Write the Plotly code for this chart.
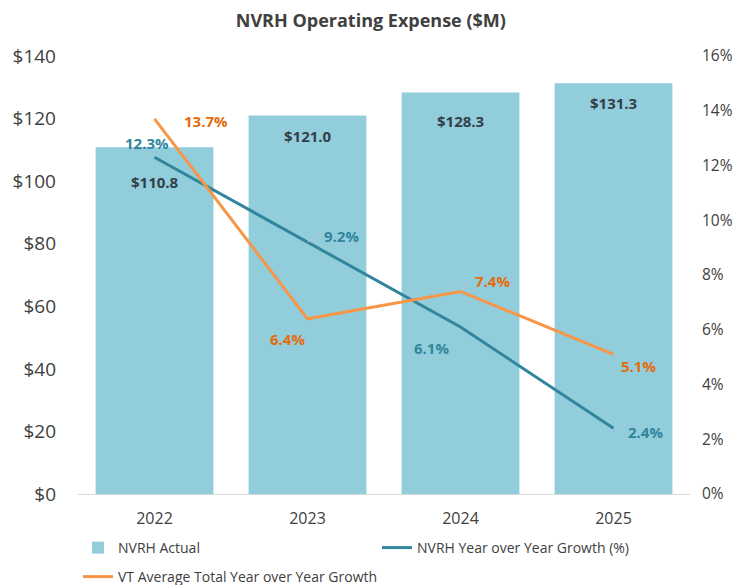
import plotly.graph_objects as go

years = ["2022", "2023", "2024", "2025"]
nvrh_actual = [110.8, 121.0, 128.3, 131.3]
nvrh_growth = [12.3, 9.2, 6.1, 2.4]
vt_growth = [13.7, 6.4, 7.4, 5.1]
bar_labels = ["$110.8", "$121.0", "$128.3", "$131.3"]
left_ticks = [0, 20, 40, 60, 80, 100, 120, 140]
right_ticks = [0, 2, 4, 6, 8, 10, 12, 14, 16]

BAR = "#92CDDC"
TEAL = "#31859C"
ORANGE = "#F79646"
ORANGE_TXT = "#E46C0A"
FONT = "Open Sans"
TXT = "#404040"

fig = go.Figure()
fig.add_trace(go.Bar(x=years, y=nvrh_actual, name="NVRH Actual",
                     marker=dict(color=BAR, line=dict(width=0)), width=0.77))
fig.add_trace(go.Scatter(x=years, y=nvrh_growth, name="NVRH Year over Year Growth (%)",
                         mode="lines", line=dict(color=TEAL, width=3), yaxis="y2"))
fig.add_trace(go.Scatter(x=years, y=vt_growth, name="VT Average Total Year over Year Growth",
                         mode="lines", line=dict(color=ORANGE, width=3), yaxis="y2",
                         legend="legend2"))

# bar value labels
bar_shift = [-35, -21, -28, -20]
for i, (v, t, s) in enumerate(zip(nvrh_actual, bar_labels, bar_shift)):
    fig.add_annotation(x=i, y=v, text="<b>%s</b>" % t, showarrow=False, yshift=s,
                       font=dict(family=FONT, size=15, color="#333F48"))

# NVRH growth labels
teal_off = [(-8, 14), (34, 6), (-29, -21), (32, -4)]
for i, (v, (dx, dy)) in enumerate(zip(nvrh_growth, teal_off)):
    fig.add_annotation(x=i, y=v, yref="y2", text="<b>%.1f%%</b>" % v, showarrow=False,
                       xshift=dx, yshift=dy, font=dict(family=FONT, size=15, color=TEAL))

orange_off = [(51, -2), (-20, -20), (32, 10), (25, -12)]
for i, (v, (dx, dy)) in enumerate(zip(vt_growth, orange_off)):
    fig.add_annotation(x=i, y=v, yref="y2", text="<b>%.1f%%</b>" % v, showarrow=False,
                       xshift=dx, yshift=dy, font=dict(family=FONT, size=15, color=ORANGE_TXT))

# small leader lines (9.2% and 7.4%)
fig.add_annotation(x=1, y=nvrh_growth[1], yref="y2", text="", showarrow=True,
                   arrowhead=0, arrowwidth=1, arrowcolor="#C8C8C8", ax=12, ay=-8)
fig.add_annotation(x=2, y=vt_growth[2], yref="y2", text="", showarrow=True,
                   arrowhead=0, arrowwidth=1, arrowcolor="#C8C8C8", ax=7, ay=-10)

fig.update_layout(
    width=742, height=585,
    margin=dict(l=70, r=60, t=48, b=99, autoexpand=False),
    paper_bgcolor="white", plot_bgcolor="white",
    title=dict(text="<b>NVRH Operating Expense ($M)</b>", x=0.489, xanchor="center",
               y=0.979, yanchor="middle",
               font=dict(family=FONT, size=18, color=TXT)),
    showlegend=True,
    legend=dict(orientation="h", x=0.0, xanchor="left", y=-0.1233, yanchor="middle",
                entrywidth=254, entrywidthmode="pixels",
                font=dict(family=FONT, size=14, color=TXT),
                traceorder="normal", itemwidth=30),
    legend2=dict(orientation="h", x=0.0, xanchor="left", y=-0.1895, yanchor="middle",
                 font=dict(family=FONT, size=14, color=TXT), itemwidth=30),
    xaxis=dict(type="category", range=[-0.5, 3.5], showgrid=False,
               showline=True, linecolor="#D9D9D9", linewidth=1, ticks="",
               ticklabelstandoff=10,
               tickfont=dict(family=FONT, size=16, color=TXT)),
    yaxis=dict(range=[0, 140], tickvals=left_ticks,
               ticktext=["$%d" % t for t in left_ticks],
               showgrid=False, zeroline=False, showline=False, ticks="",
               ticklabelstandoff=21,
               tickfont=dict(family=FONT, size=19, color=TXT)),
    yaxis2=dict(range=[0, 16], tickvals=right_ticks,
                ticktext=["%d%%" % t for t in right_ticks],
                overlaying="y", side="right", showgrid=False, zeroline=False,
                showline=False, ticks="", ticklabelstandoff=11,
                tickfont=dict(family=FONT, size=15.5, color=TXT)),
)

fig.write_html("out.html")
